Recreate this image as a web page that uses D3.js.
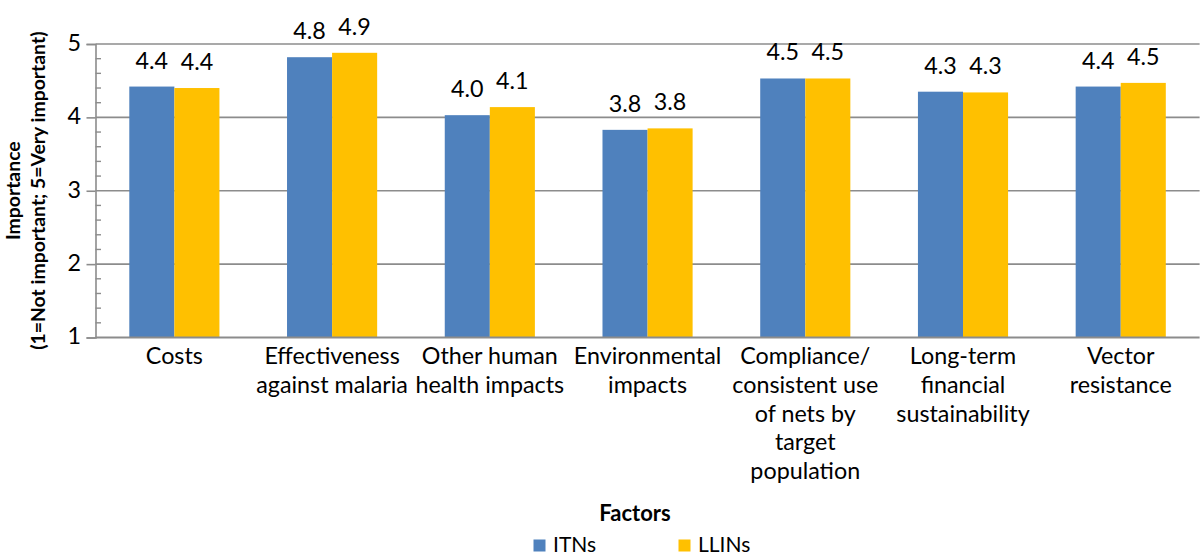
<!DOCTYPE html>
<html>
<head>
<meta charset="utf-8">
<script src="https://cdn.jsdelivr.net/npm/d3@7"></script>
<style>
  html, body { margin: 0; padding: 0; background: #fff; }
  svg { display: block; }
  text { font-family: Lato, "Open Sans", sans-serif; fill: #000; }
</style>
</head>
<body>
<svg id="chart" width="1200" height="557"></svg>
<script>
const categories = [
  ["Costs"],
  ["Effectiveness", "against malaria"],
  ["Other human", "health impacts"],
  ["Environmental", "impacts"],
  ["Compliance/", "consistent use", "of nets by", "target", "population"],
  ["Long-term", "financial", "sustainability"],
  ["Vector", "resistance"]
];
const seriesNames = ["ITNs", "LLINs"];
const itnValues  = [4.42, 4.82, 4.03, 3.83, 4.53, 4.35, 4.42];
const llinValues = [4.40, 4.88, 4.14, 3.85, 4.53, 4.34, 4.47];
const itnLabels  = ["4.4", "4.8", "4.0", "3.8", "4.5", "4.3", "4.4"];
const llinLabels = ["4.4", "4.9", "4.1", "3.8", "4.5", "4.3", "4.5"];
const yTicks = [1, 2, 3, 4, 5];
const colors = ["#4F81BD", "#FFC000"];

(function () {
const svg = d3.select("#chart");
const mLeft = 95.5, mRight = 1199.6, mTop = 44, mBottom = 337.5;
const FS = 23.3;

const x0 = d3.scaleBand().domain(d3.range(categories.length)).range([mLeft, mRight]).paddingInner(0).paddingOuter(0);
const bw = x0.bandwidth() / 3.5;
const x1 = d3.scaleBand().domain([0, 1]).range([0, 2 * bw]);
const y = d3.scaleLinear().domain([1, 5]).range([mBottom, mTop]);

// gridlines
svg.append("g").selectAll("line").data(yTicks.filter(t => t > 1)).join("line")
  .attr("x1", mLeft).attr("x2", mRight)
  .attr("y1", d => y(d)).attr("y2", d => y(d))
  .attr("stroke", "#8c8c8c").attr("stroke-width", 1.6);

// bars
const data = categories.map((c, i) => ({i, vals: [itnValues[i], llinValues[i]], labs: [itnLabels[i], llinLabels[i]]}));
const groups = svg.append("g").selectAll("g").data(data).join("g")
  .attr("transform", d => `translate(${x0(d.i) + (x0.bandwidth() - 2 * bw) / 2},0)`);
groups.selectAll("rect").data(d => d.vals.map((v, k) => ({v, k}))).join("rect")
  .attr("x", d => x1(d.k)).attr("width", bw)
  .attr("y", d => y(d.v)).attr("height", d => y(1) - y(d.v))
  .attr("fill", d => colors[d.k]);
groups.selectAll("text.lab").data(d => d.vals.map((v, k) => ({v, k, t: d.labs[k]}))).join("text")
  .attr("class", "lab")
  .attr("x", d => x1(d.k) + bw / 2).attr("y", d => y(d.v) - 18)
  .attr("text-anchor", "middle").style("font-size", FS + "px")
  .text(d => d.t);

// y axis
const yAxis = d3.axisLeft(y).tickValues(yTicks).tickSize(9).tickPadding(5.5).tickFormat(d3.format("d"));
const gy = svg.append("g").attr("transform", `translate(${mLeft},0)`).call(yAxis);
gy.select(".domain").attr("stroke", "#8c8c8c").attr("stroke-width", 1.6);
gy.selectAll(".tick line").attr("stroke", "#8c8c8c").attr("stroke-width", 1.6);
gy.selectAll(".tick text").style("font-size", FS + "px").style("font-family", "Lato, sans-serif")
  .attr("fill", "#000").attr("dy", "0.27em");
// minor ticks
const minor = d3.range(1.2, 5, 0.2).filter(v => Math.abs(v - Math.round(v)) > 0.01);
svg.append("g").selectAll("line").data(minor).join("line")
  .attr("x1", mLeft).attr("x2", mLeft + 5.5)
  .attr("y1", d => y(d)).attr("y2", d => y(d))
  .attr("stroke", "#8c8c8c").attr("stroke-width", 1.4);

// x axis line
svg.append("line").attr("x1", mLeft).attr("x2", mRight)
  .attr("y1", mBottom).attr("y2", mBottom)
  .attr("stroke", "#8c8c8c").attr("stroke-width", 1.8);

// category labels
const cl = svg.append("g").selectAll("text").data(categories).join("text")
  .attr("text-anchor", "middle").style("font-size", FS + "px")
  .attr("x", (d, i) => x0(i) + x0.bandwidth() / 2)
  .attr("y", mBottom + 26.5);
cl.selectAll("tspan").data(d => d).join("tspan")
  .attr("x", function() { return d3.select(this.parentNode).attr("x"); })
  .attr("dy", (d, k) => k === 0 ? 0 : 28.8)
  .text(d => d);

// axis titles
const yt = svg.append("text").attr("transform", "translate(20,190.7) rotate(-90)")
  .attr("text-anchor", "middle").style("font-size", "19.4px").style("font-weight", "bold");
yt.append("tspan").attr("x", 0).attr("dy", 0).text("Importance");
yt.append("tspan").attr("x", 0).attr("dy", 24.5).text("(1=Not important; 5=Very important)");

svg.append("text").attr("x", 635).attr("y", 521).attr("text-anchor", "middle")
  .style("font-size", "22px").style("font-weight", "bold").text("Factors");

// legend
const legX = [533.5, 678.5];
const leg = svg.append("g").selectAll("g").data(seriesNames).join("g")
  .attr("transform", (d, i) => `translate(${legX[i]},0)`);
leg.append("rect").attr("x", 0).attr("y", 539.5).attr("width", 12).attr("height", 12)
  .attr("fill", (d, i) => colors[i]);
leg.append("text").attr("x", 19.5).attr("y", 551.5).style("font-size", "21px").text(d => d);
})();
</script>
</body>
</html>
